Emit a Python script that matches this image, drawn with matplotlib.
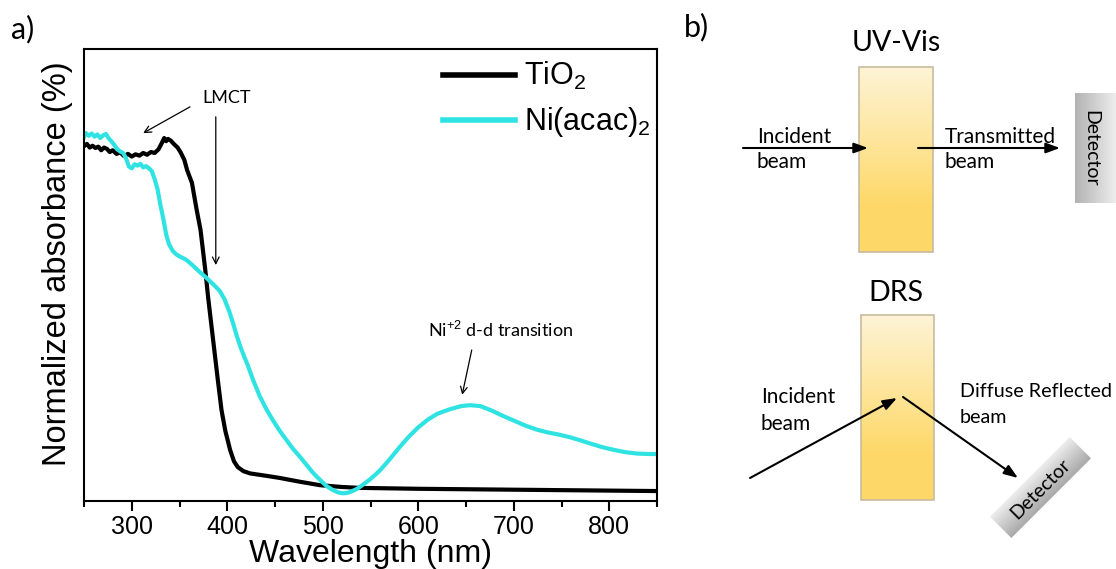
import numpy as np
import matplotlib
matplotlib.use('Agg')
import matplotlib.pyplot as plt
from matplotlib.patches import Rectangle
from matplotlib.transforms import Affine2D

plt.rcParams['font.family'] = ['Liberation Sans', 'DejaVu Sans']
plt.rcParams['mathtext.fontset'] = 'custom'
plt.rcParams['mathtext.rm'] = 'Liberation Sans'
plt.rcParams['mathtext.it'] = 'Liberation Sans:italic'
plt.rcParams['mathtext.bf'] = 'Liberation Sans:bold'

# spectra, normalized absorbance (0 = bottom of axes, 1 = top)
tio2_wl = [250, 253, 256, 259, 262, 265, 268, 271, 274, 277, 280, 284, 288, 292, 296, 300,
           304, 308, 312, 316, 320, 324, 328, 331, 334, 336, 338, 341, 344, 348, 351, 355,
           358, 363, 368, 372, 377, 380, 385, 390, 394, 398, 403, 407, 411, 417, 424, 440,
           455, 475, 497, 520, 539, 570, 600, 650, 700, 750, 800, 850]
tio2_abs = [.785, .790, .782, .786, .781, .784, .776, .782, .779, .772, .776, .768, .771, .763, .768, .762,
            .767, .764, .770, .766, .772, .770, .778, .790, .803, .796, .801, .797, .790, .782, .772, .755,
            .732, .704, .644, .600, .511, .450, .360, .270, .201, .155, .113, .088, .075, .066, .061, .056,
            .051, .043, .035, .031, .029, .028, .027, .026, .025, .024, .023, .022]

ni_wl = [250, 252, 255, 258, 261, 264, 267, 270, 273, 276, 279, 282, 285, 288, 291, 294,
         297, 300, 303, 306, 309, 312, 315, 318, 321, 324, 327, 330, 333, 336, 339, 343,
         347, 351, 355, 358, 363, 368, 372, 377, 382, 387, 392, 397, 402, 406, 410, 414,
         418, 421, 427, 434, 441, 448, 455, 462, 469, 476, 483, 490, 497, 504, 510, 516,
         521, 526, 531, 536, 542, 549, 555, 560, 570, 580, 590, 600, 610, 620, 633, 645,
         654, 665, 677, 689, 700, 712, 724, 735, 747, 759, 770, 782, 793, 805, 817, 829,
         840, 850]
ni_abs = [.805, .814, .808, .813, .806, .811, .803, .809, .812, .802, .795, .787, .778, .773, .770, .758,
          .740, .736, .745, .742, .746, .738, .741, .736, .730, .712, .690, .655, .625, .590, .568, .553,
          .545, .540, .536, .532, .523, .513, .505, .496, .486, .476, .465, .447, .420, .394, .365, .340,
          .318, .303, .268, .232, .203, .178, .155, .135, .115, .098, .080, .062, .047, .033, .025, .019,
          .017, .018, .022, .027, .036, .047, .058, .068, .092, .118, .142, .163, .180, .193, .203, .210,
          .212, .210, .200, .188, .178, .167, .158, .152, .147, .141, .134, .126, .119, .113, .108, .105,
          .104, .104]

major_ticks = [300, 400, 500, 600, 700, 800]
minor_ticks = [250, 350, 450, 550, 650, 750, 850]

W, H = 1116, 569
fig = plt.figure(figsize=(W / 100, H / 100), dpi=100)

# ---------------- panel a) spectra ----------------
ax = fig.add_axes([84 / W, (H - 501) / H, (657 - 84) / W, (501 - 49) / H], zorder=2)
ax.plot(tio2_wl, tio2_abs, color='black', lw=3.0, label='TiO$_2$')
ax.plot(ni_wl, ni_abs, color='#30E3E3', lw=3.0, label='Ni(acac)$_2$')
ax.set_xlim(250, 850)
ax.set_ylim(0, 1)
ax.set_xticks(major_ticks)
ax.set_xticks(minor_ticks, minor=True)
ax.set_yticks([])
ax.tick_params(axis='x', which='major', direction='out', length=7, width=1.5, labelsize=18, pad=3)
ax.tick_params(axis='x', which='minor', direction='out', length=4.5, width=1.5)
for sp in ax.spines.values():
    sp.set_linewidth(1.5)
ax.set_xlabel('Wavelength (nm)', fontsize=23, labelpad=0)
ax.set_ylabel('Normalized absorbance (%)', fontsize=23.5)
ax.yaxis.set_label_coords(-0.02, 0.525)

leg = ax.legend(loc='upper left', bbox_to_anchor=(0.6265, 0.975), frameon=False, fontsize=22,
                handlelength=2.35, handletextpad=0.3, labelspacing=0.42, borderpad=0, borderaxespad=0)
for line in leg.get_lines():
    line.set_linewidth(4)

arrow_thin = dict(arrowstyle='->', lw=0.9, color='black', shrinkA=0, shrinkB=0, mutation_scale=12)
ax.text(399, 0.892, 'LMCT', fontsize=13, family='Lato', ha='center', va='center')
ax.annotate('', xy=(312, 0.814), xytext=(361, 0.872), arrowprops=arrow_thin)
ax.annotate('', xy=(388, 0.522), xytext=(388, 0.850), arrowprops=arrow_thin)
ax.text(686, 0.378, 'Ni$^{+2}$ d-d transition', fontsize=13, family='Lato', ha='center', va='center')
ax.annotate('', xy=(646, 0.235), xytext=(656, 0.334), arrowprops=arrow_thin)

# ---------------- panel b) schematic (pixel coordinates) ----------------
dx = fig.add_axes([0, 0, 1, 1], zorder=1)
dx.set_xlim(0, W)
dx.set_ylim(H, 0)
dx.axis('off')

dx.text(23, 29, 'a)', fontsize=22, family='Lato', ha='center', va='center')
dx.text(696, 27, 'b)', fontsize=22, family='Lato', ha='center', va='center')


def vgrad(top, bottom, n=200, knee=0.75):
    t = np.clip(np.linspace(0, 1, n) / knee, 0, 1)[:, None, None]
    return (1 - t) * np.array(top)[None, None, :] + t * np.array(bottom)[None, None, :]


def hgrad(left, right, n=100):
    t = np.linspace(0, 1, n)[None, :, None]
    return (1 - t) * np.array(left)[None, None, :] + t * np.array(right)[None, None, :]


def sample(x0, y0, x1, y1):
    img = vgrad([254 / 255, 244 / 255, 214 / 255], [253 / 255, 216 / 255, 104 / 255])
    dx.imshow(img, extent=(x0, x1, y1, y0), aspect='auto', zorder=1, interpolation='bilinear')
    dx.add_patch(Rectangle((x0, y0), x1 - x0, y1 - y0, fill=False, ec='#C8BBA0', lw=1.2, zorder=2))


def label(x, y1, y2, first, second, size=15):
    dx.text(x, y1, first, fontsize=size, family='Lato', ha='left', va='baseline')
    dx.text(x, y2, second, fontsize=size, family='Lato', ha='left', va='baseline')


arrow_bold = dict(arrowstyle='-|>,head_length=0.6,head_width=0.22', lw=1.5, color='black',
                  shrinkA=0, shrinkB=0, mutation_scale=14)

# UV-Vis
dx.text(896, 43, 'UV-Vis', fontsize=20.5, family='Lato', ha='center', va='center')
sample(859, 67, 933, 252)
dx.annotate('', xy=(868, 148), xytext=(743, 148), arrowprops=arrow_bold, zorder=3)
dx.annotate('', xy=(1060, 148), xytext=(918, 148), arrowprops=arrow_bold, zorder=3)
label(757, 143, 168, 'Incident', 'beam')
label(945, 143, 168, 'Transmitted', 'beam')
img = hgrad([0.70, 0.70, 0.70], [0.93, 0.93, 0.93])
dx.imshow(img, extent=(1075, 1116, 203, 93), aspect='auto', zorder=1, interpolation='bilinear')
dx.text(1091, 148, 'Detector', fontsize=14, family='Lato', rotation=270, ha='center', va='center', zorder=3)

# DRS
dx.text(896, 293, 'DRS', fontsize=20.5, family='Lato', ha='center', va='center')
sample(861, 315, 934, 500)
dx.annotate('', xy=(897, 398), xytext=(750, 478), arrowprops=arrow_bold, zorder=3)
dx.annotate('', xy=(1018, 478), xytext=(903, 397), arrowprops=arrow_bold, zorder=3)
label(761, 403, 430, 'Incident', 'beam')
label(960, 397, 423, 'Diffuse Reflected', 'beam', size=14.2)
cx, cy = 1040, 488
rgb = np.transpose(hgrad([0.93, 0.93, 0.93], [0.66, 0.66, 0.66]), (1, 0, 2))
img = np.concatenate([rgb, np.ones(rgb.shape[:2] + (1,))], axis=2)
im = dx.imshow(img, extent=(cx - 56, cx + 56, cy + 15, cy - 15), aspect='auto', zorder=1,
               interpolation='bilinear')
im.set_transform(Affine2D().rotate_deg_around(cx, cy, -45) + dx.transData)
dx.text(cx, cy + 1, 'Detector', fontsize=14, family='Lato', rotation=45, ha='center', va='center',
        rotation_mode='anchor', zorder=3)

dx.set_xlim(0, W)
dx.set_ylim(H, 0)

fig.savefig('out.png', dpi=100, facecolor='white')
